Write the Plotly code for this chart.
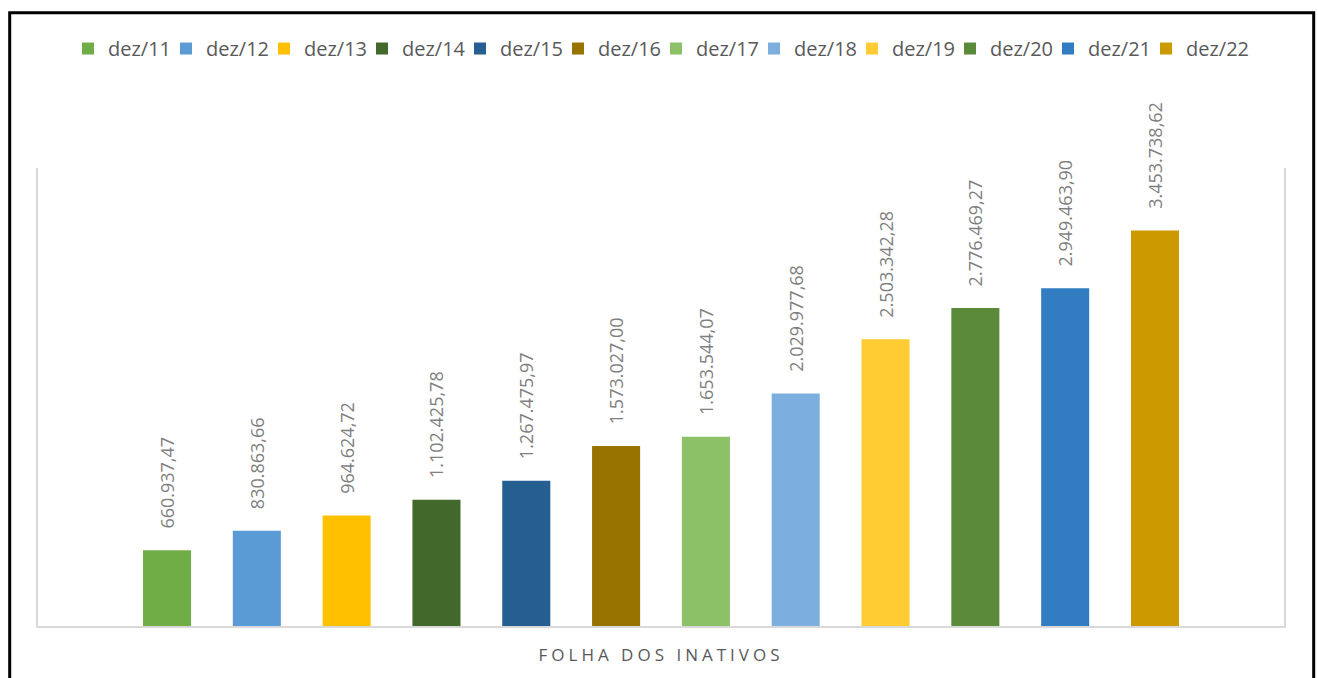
import plotly.graph_objects as go

category = "FOLHA DOS INATIVOS"
series_names = ["dez/11", "dez/12", "dez/13", "dez/14", "dez/15", "dez/16",
                "dez/17", "dez/18", "dez/19", "dez/20", "dez/21", "dez/22"]
values = [660937.47, 830863.66, 964624.72, 1102425.78, 1267475.97, 1573027.00,
          1653544.07, 2029977.68, 2503342.28, 2776469.27, 2949463.90, 3453738.62]
colors = ["#70AD47", "#5B9BD5", "#FFC000", "#43682B", "#255E91", "#997300",
          "#8CC168", "#7CAFDD", "#FFCD33", "#5B8A3B", "#327DC2", "#CC9A00"]

FONT = "Open Sans"
W, H = 1318, 678
ML, MR, MT, MB = 38, 34, 168, 50
PW, PH = W - ML - MR, H - MT - MB
LEG_X0 = 68      # left edge of first legend entry (px)
LEG_PITCH = 98   # px per legend entry


def px_x(px):
    return (px - ML) / PW


def px_y(py):
    return 1 + (MT - py) / PH


fig = go.Figure()
legends = {}
for i, (name, v, c) in enumerate(zip(series_names, values, colors)):
    key = "legend" if i == 0 else f"legend{i + 1}"
    fig.add_trace(go.Bar(
        name=name, x=[category], y=[v], marker=dict(color=c, line=dict(width=0)),
        texttemplate="\u00a0\u00a0\u00a0\u00a0%{y:,.2f}", textposition="outside",
        textangle=-90, constraintext="none", cliponaxis=False,
        textfont=dict(family=FONT, size=18, color="#7f7f7f"),
        hoverinfo="skip", legend=key,
    ))
    legends[key] = dict(orientation="h", xanchor="left", x=px_x(LEG_X0 + i * LEG_PITCH),
                        y=px_y(48), yanchor="middle",
                        font=dict(family=FONT, size=20, color="#595959"),
                        bgcolor="rgba(0,0,0,0)")

fig.update_layout(
    width=W, height=H,
    margin=dict(l=ML, r=MR, t=MT, b=MB, pad=0),
    paper_bgcolor="white", plot_bgcolor="white",
    barmode="group", bargap=0.135, bargroupgap=0.465,
    separators=",.",
    font=dict(family=FONT, color="#595959"),
    showlegend=True,
    xaxis=dict(type="category", range=[-0.5, 0.5], showline=True, linecolor="#d9d9d9",
               linewidth=2, mirror=False, showgrid=False, ticks="",
               tickvals=[category],
               ticktext=['<span style="letter-spacing:4px">' + category + '</span>'],
               tickfont=dict(family=FONT, size=17, color="#595959"),
               ticklabelstandoff=13, fixedrange=True),
    yaxis=dict(range=[0, 4000000], autorange=False, showline=True, linecolor="#d9d9d9",
               linewidth=2, mirror=True, showgrid=False, zeroline=False,
               showticklabels=False, ticks="", fixedrange=True),
    shapes=[dict(type="rect", xref="paper", yref="paper",
                 x0=px_x(9.7), x1=px_x(1313.7), y0=px_y(700), y1=px_y(12),
                 line=dict(color="black", width=3), fillcolor="rgba(0,0,0,0)", layer="above")],
)
fig.update_layout(**legends)

fig.write_html("out.html", config={"displayModeBar": False},
               post_script="document.body.style.margin='0';document.body.style.overflow='hidden';")
